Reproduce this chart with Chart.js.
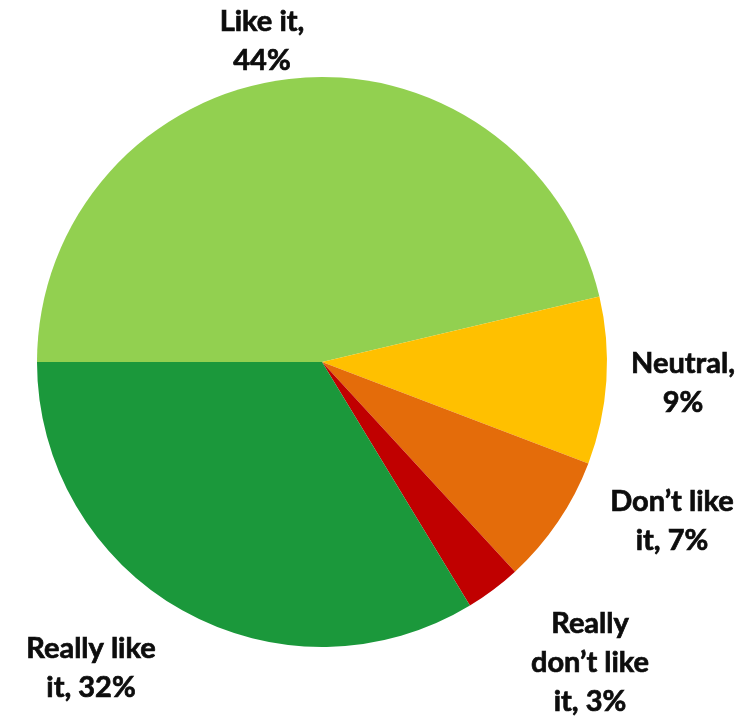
<!DOCTYPE html>
<html>
<head>
<meta charset="utf-8">
<script src="https://cdn.jsdelivr.net/npm/chart.js@4.4.1/dist/chart.umd.min.js"></script>
<style>
  html, body { margin: 0; padding: 0; background: #ffffff; }
  #wrap { width: 756px; height: 721px; }
</style>
</head>
<body>
<div id="wrap"><canvas id="pieChart" width="756" height="721"></canvas></div>
<script>
// Survey answers, clockwise from 9 o'clock
const categories = ['Like it', 'Neutral', 'Don\u2019t like it', 'Really don\u2019t like it', 'Really like it'];
const shares = [44, 9, 7, 3, 32];
const sliceColors = ['#92D050', '#FFC000', '#E46C0A', '#C00000', '#1B983B'];

// label text lines and their centres, relative to the pie centre
const labelLines = [
    ['Like it,', '44%'],
    ['Neutral,', '9%'],
    ['Don\u2019t like', 'it, 7%'],
    ['Really', 'don\u2019t like', 'it, 3%'],
    ['Really like', 'it, 32%']
];
const labelOffsets = [[-60, -321], [361, 21], [350, 159], [268, 301], [-231, 306]];

const labelPlugin = {
    id: 'sliceLabels',
    afterDraw(chart) {
        const ctx = chart.ctx;
        const arc = chart.getDatasetMeta(0).data[0];
        const cx = arc.x, cy = arc.y;
        const lineH = 39;
        ctx.save();
        ctx.fillStyle = '#0d0d0d';
        ctx.strokeStyle = '#0d0d0d';
        ctx.lineWidth = 0.7;
        ctx.font = 'bold 29px Lato';
        ctx.textAlign = 'center';
        ctx.textBaseline = 'middle';
        labelLines.forEach((lines, i) => {
            const x = cx + labelOffsets[i][0];
            const y0 = cy + labelOffsets[i][1] - (lines.length - 1) * lineH / 2;
            lines.forEach((t, j) => {
                ctx.fillText(t, x, y0 + j * lineH);
                ctx.strokeText(t, x, y0 + j * lineH);
            });
        });
        ctx.restore();
    }
};

const ctx = document.getElementById('pieChart').getContext('2d');
new Chart(ctx, {
    type: 'pie',
    data: {
        labels: categories,
        datasets: [{
            data: shares,
            backgroundColor: sliceColors,
            borderWidth: 0
        }]
    },
    options: {
        responsive: false,
        animation: false,
        rotation: -90,
        layout: { padding: { left: 37, right: 149, top: 77, bottom: 74 } },
        plugins: {
            legend: { display: false },
            tooltip: { enabled: false }
        }
    },
    plugins: [labelPlugin]
});
</script>
</body>
</html>
